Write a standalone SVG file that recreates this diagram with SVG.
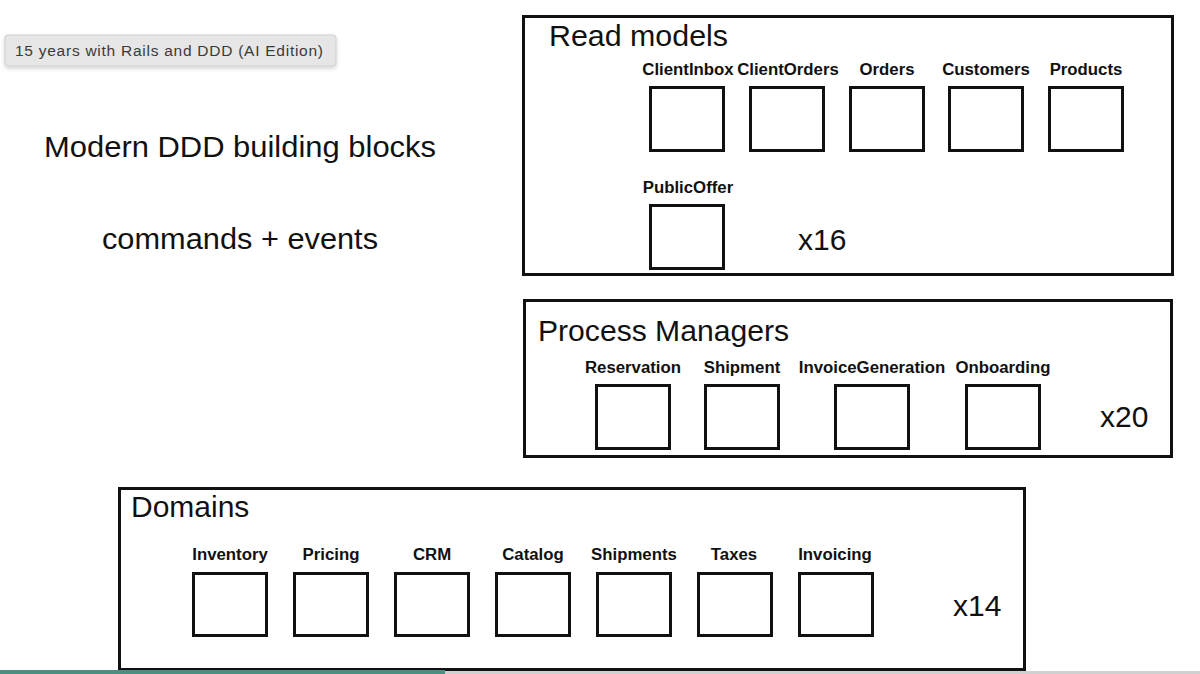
<svg xmlns="http://www.w3.org/2000/svg" width="1200" height="674" viewBox="0 0 1200 674">
  <style>
    .frame { fill: #ffffff; stroke: #111111; stroke-width: 3; }
    .box { fill: #ffffff; stroke: #111111; stroke-width: 3; }
    .title { font-family: "Liberation Sans", Arial, sans-serif; font-size: 30px; fill: #111111; }
    .big { font-family: "Liberation Sans", Arial, sans-serif; font-size: 30px; fill: #111111; }
    .lbl { font-family: "Liberation Sans", Arial, sans-serif; font-size: 16.8px; font-weight: bold; fill: #111111; text-anchor: middle; }
    .tip { font-family: "Liberation Sans", Arial, sans-serif; font-size: 15.5px; fill: #3a3a3a; }
  </style>
  <defs>
    <filter id="shadow" x="-10%" y="-40%" width="120%" height="200%">
      <feDropShadow dx="0" dy="2" stdDeviation="2" flood-color="#000000" flood-opacity="0.18"/>
    </filter>
  </defs>
  <rect x="0" y="0" width="1200" height="674" fill="#ffffff"/>

  <g id="tooltip">
    <rect x="5" y="35" width="331" height="31" rx="3" fill="#e6e6e6" stroke="#cfcfcf" stroke-width="1" filter="url(#shadow)"/>
    <text class="tip" x="15" y="56" textLength="308">15 years with Rails and DDD (AI Edition)</text>
  </g>

  <g id="heading">
    <text class="big" x="44" y="157" textLength="392" lengthAdjust="spacingAndGlyphs">Modern DDD building blocks</text>
    <text class="big" x="102" y="249" textLength="276" lengthAdjust="spacingAndGlyphs">commands + events</text>
  </g>

  <g id="read-models">
    <rect class="frame" x="523.5" y="16.5" width="649" height="258"/>
    <text class="title" x="549" y="46" textLength="179" lengthAdjust="spacingAndGlyphs">Read models</text>
    <g id="rm-clientinbox"><text class="lbl" x="688" y="75">ClientInbox</text><rect class="box" x="650.5" y="87.5" width="73" height="63"/></g>
    <g id="rm-clientorders"><text class="lbl" x="788" y="75">ClientOrders</text><rect class="box" x="750.5" y="87.5" width="73" height="63"/></g>
    <g id="rm-orders"><text class="lbl" x="887" y="75">Orders</text><rect class="box" x="850.5" y="87.5" width="73" height="63"/></g>
    <g id="rm-customers"><text class="lbl" x="986" y="75">Customers</text><rect class="box" x="949.5" y="87.5" width="73" height="63"/></g>
    <g id="rm-products"><text class="lbl" x="1086" y="75">Products</text><rect class="box" x="1049.5" y="87.5" width="73" height="63"/></g>
    <g id="rm-publicoffer"><text class="lbl" x="688" y="193">PublicOffer</text><rect class="box" x="650.5" y="205.5" width="73" height="63"/></g>
    <text class="big" x="798" y="250">x16</text>
  </g>

  <g id="process-managers">
    <rect class="frame" x="524.5" y="300.5" width="647" height="156"/>
    <text class="title" x="538" y="341" textLength="251" lengthAdjust="spacingAndGlyphs">Process Managers</text>
    <g id="pm-reservation"><text class="lbl" x="633" y="373">Reservation</text><rect class="box" x="596.5" y="385.5" width="73" height="63"/></g>
    <g id="pm-shipment"><text class="lbl" x="742" y="373">Shipment</text><rect class="box" x="705.5" y="385.5" width="73" height="63"/></g>
    <g id="pm-invoicegeneration"><text class="lbl" x="872" y="373">InvoiceGeneration</text><rect class="box" x="835.5" y="385.5" width="73" height="63"/></g>
    <g id="pm-onboarding"><text class="lbl" x="1003" y="373">Onboarding</text><rect class="box" x="966.5" y="385.5" width="73" height="63"/></g>
    <text class="big" x="1100" y="427">x20</text>
  </g>

  <g id="domains">
    <rect class="frame" x="119.5" y="488.5" width="905" height="181"/>
    <text class="title" x="131" y="517">Domains</text>
    <g id="d-inventory"><text class="lbl" x="230" y="560">Inventory</text><rect class="box" x="193.5" y="573.5" width="73" height="62"/></g>
    <g id="d-pricing"><text class="lbl" x="331" y="560">Pricing</text><rect class="box" x="294.5" y="573.5" width="73" height="62"/></g>
    <g id="d-crm"><text class="lbl" x="432" y="560">CRM</text><rect class="box" x="395.5" y="573.5" width="73" height="62"/></g>
    <g id="d-catalog"><text class="lbl" x="533" y="560">Catalog</text><rect class="box" x="496.5" y="573.5" width="73" height="62"/></g>
    <g id="d-shipments"><text class="lbl" x="634" y="560">Shipments</text><rect class="box" x="597.5" y="573.5" width="73" height="62"/></g>
    <g id="d-taxes"><text class="lbl" x="734" y="560">Taxes</text><rect class="box" x="698.5" y="573.5" width="73" height="62"/></g>
    <g id="d-invoicing"><text class="lbl" x="835" y="560">Invoicing</text><rect class="box" x="799.5" y="573.5" width="73" height="62"/></g>
    <text class="big" x="953" y="616">x14</text>
  </g>

  <g id="connectors"></g>

  <g id="progress-bar">
    <rect x="0" y="671" width="1200" height="3" fill="#d0d0d0"/>
    <rect x="0" y="670" width="445" height="4" fill="#4a8f80"/>
  </g>
</svg>
